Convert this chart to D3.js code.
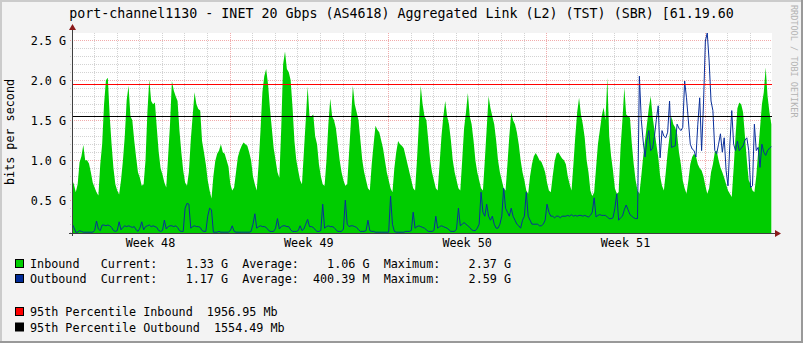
<!DOCTYPE html>
<html><head><meta charset="utf-8">
<script src="https://cdn.jsdelivr.net/npm/d3@7"></script>
<style>
html,body{margin:0;padding:0;background:#f3f3f3;}
svg{display:block;}
text{font-family:"DejaVu Sans Mono",monospace;}
</style></head><body>
<svg id="c" width="803" height="343"></svg>
<script>
const title = "port-channel1130 - INET 20 Gbps (AS4618) Aggregated Link (L2) (TST) (SBR) [61.19.60";
const yLabel = "bits per second";
const watermark = "RRDTOOL / TOBI OETIKER";
const yTickValues = [0.5, 1.0, 1.5, 2.0, 2.5];
const yTickLabels = ["0.5 G", "1.0 G", "1.5 G", "2.0 G", "2.5 G"];
const weekFormat = "Week %V";
const pct95In = 1.95695;   // Gbps
const pct95Out = 1.55449;  // Gbps

// 2-hour samples, one row per day (Gbps)
const inboundDays = [
 [0.76,0.70,0.60,0.70,0.97,1.05,1.19,1.00,1.00,0.96,0.85,0.72],
 [0.66,0.60,0.56,0.95,1.20,1.70,2.00,2.03,1.55,1.20,0.90,0.70],
 [0.62,0.57,0.75,0.99,1.30,1.75,1.93,1.55,1.50,1.25,1.04,0.85],
 [0.78,0.68,0.70,1.00,1.60,2.01,1.74,1.70,1.72,1.40,1.10,0.90],
 [0.82,0.72,0.66,1.05,1.45,1.99,1.87,1.80,1.74,1.37,1.10,0.87],
 [0.72,0.68,0.85,1.25,1.55,1.85,1.70,1.64,1.62,1.24,1.10,0.95],
 [0.75,0.62,0.52,0.80,0.99,1.08,1.12,1.20,1.10,1.08,1.00,0.92],
 [0.70,0.62,0.66,0.85,1.04,1.12,1.18,1.22,1.20,1.18,1.10,1.00],
 [0.80,0.70,0.62,0.95,1.37,1.85,2.05,2.14,1.95,1.65,1.40,1.15],
 [1.00,0.85,0.78,1.40,2.20,2.36,2.14,2.10,2.00,1.66,1.24,1.00],
 [0.87,0.75,0.70,1.10,1.50,1.92,1.55,1.55,1.57,1.30,1.20,0.95],
 [0.80,0.70,0.68,1.00,1.45,1.77,1.55,1.50,1.40,1.20,1.00,0.85],
 [0.75,0.68,0.70,1.10,1.50,1.93,1.70,1.60,1.50,1.25,1.00,0.85],
 [0.75,0.65,0.62,0.95,1.20,1.43,1.38,1.35,1.25,1.15,1.00,0.85],
 [0.75,0.65,0.60,0.90,1.10,1.24,1.20,1.18,1.15,1.05,0.95,0.85],
 [0.75,0.65,0.62,1.00,1.45,1.93,1.70,1.55,1.50,1.25,1.00,0.85],
 [0.75,0.65,0.62,0.95,1.30,1.55,1.74,1.55,1.45,1.25,1.00,0.85],
 [0.75,0.65,0.62,1.00,1.40,1.60,1.84,1.55,1.45,1.25,1.00,0.85],
 [0.75,0.65,0.62,1.00,1.40,1.80,1.65,1.55,1.45,1.25,1.00,0.85],
 [0.75,0.65,0.62,0.95,1.30,1.60,1.50,1.45,1.35,1.20,1.00,0.85],
 [0.75,0.62,0.58,0.80,0.95,1.05,1.09,1.05,1.00,0.98,0.92,0.85],
 [0.72,0.62,0.60,0.80,0.98,1.08,1.10,1.06,1.02,1.00,0.95,0.80],
 [0.70,0.62,0.95,1.30,1.60,1.78,1.57,1.45,1.28,1.00,0.85,0.62],
 [0.55,0.60,0.90,1.20,1.37,1.55,1.66,1.50,2.03,1.30,1.05,0.87],
 [0.65,0.58,0.60,1.15,1.50,1.91,1.57,1.55,1.53,1.20,0.95,0.75],
 [0.62,0.58,0.80,1.04,1.25,1.45,1.65,1.80,1.55,1.37,1.20,1.04],
 [0.80,0.68,0.62,0.85,1.10,1.30,1.55,1.45,1.41,1.33,1.10,0.95],
 [0.75,0.65,0.58,0.75,0.95,1.04,1.08,1.05,0.95,0.90,0.87,0.80],
 [0.68,0.58,0.65,0.85,0.95,1.10,1.12,1.00,0.91,0.85,0.78,0.70],
 [0.62,0.58,0.54,0.90,1.30,1.65,1.72,1.70,1.60,1.30,1.00,0.75],
 [0.70,0.62,0.60,0.80,1.10,1.40,1.70,1.85,2.16,1.80,1.60,1.45]
];
const outboundDays = [
 [0.21,0.16,0.10,0.10,0.12,0.11,0.10,0.10,0.10,0.10,0.10,0.10],
 [0.12,0.24,0.14,0.12,0.19,0.19,0.18,0.19,0.18,0.16,0.12,0.11],
 [0.12,0.23,0.13,0.16,0.18,0.17,0.18,0.17,0.16,0.17,0.13,0.11],
 [0.15,0.23,0.13,0.17,0.18,0.19,0.17,0.18,0.17,0.16,0.12,0.11],
 [0.12,0.25,0.14,0.17,0.18,0.18,0.17,0.18,0.16,0.12,0.11,0.11],
 [0.40,0.46,0.45,0.15,0.17,0.18,0.17,0.17,0.16,0.12,0.11,0.11],
 [0.30,0.40,0.38,0.10,0.10,0.10,0.11,0.10,0.10,0.10,0.10,0.10],
 [0.12,0.18,0.11,0.10,0.10,0.10,0.10,0.10,0.10,0.10,0.10,0.11],
 [0.20,0.33,0.15,0.17,0.18,0.17,0.17,0.16,0.13,0.11,0.11,0.11],
 [0.15,0.27,0.14,0.17,0.18,0.18,0.17,0.17,0.13,0.11,0.11,0.11],
 [0.12,0.18,0.12,0.14,0.20,0.26,0.17,0.17,0.16,0.13,0.11,0.11],
 [0.12,0.45,0.15,0.17,0.18,0.17,0.17,0.16,0.13,0.11,0.11,0.11],
 [0.14,0.50,0.20,0.17,0.18,0.18,0.17,0.16,0.13,0.11,0.11,0.11],
 [0.12,0.25,0.12,0.11,0.11,0.10,0.10,0.10,0.10,0.10,0.10,0.10],
 [0.10,0.55,0.20,0.11,0.10,0.10,0.10,0.10,0.10,0.11,0.11,0.11],
 [0.12,0.35,0.15,0.17,0.18,0.17,0.16,0.15,0.13,0.11,0.11,0.11],
 [0.12,0.30,0.15,0.17,0.18,0.17,0.16,0.15,0.13,0.11,0.11,0.11],
 [0.14,0.40,0.18,0.20,0.22,0.20,0.18,0.16,0.13,0.12,0.12,0.15],
 [0.20,0.60,0.35,0.30,0.45,0.30,0.25,0.30,0.20,0.15,0.15,0.20],
 [0.30,0.65,0.40,0.35,0.30,0.40,0.30,0.25,0.20,0.18,0.15,0.25],
 [0.30,0.60,0.30,0.25,0.20,0.20,0.20,0.20,0.18,0.18,0.20,0.25],
 [0.45,0.35,0.30,0.30,0.28,0.30,0.30,0.28,0.30,0.30,0.30,0.31],
 [0.30,0.32,0.30,0.31,0.30,0.31,0.31,0.30,0.31,0.30,0.29,0.31],
 [0.35,0.53,0.29,0.31,0.32,0.31,0.31,0.31,0.29,0.27,0.27,0.28],
 [0.40,0.58,0.25,0.28,0.30,0.38,0.44,0.38,0.32,0.30,0.28,0.27],
 [0.27,2.05,1.51,1.24,1.04,1.25,1.37,1.12,1.15,1.30,1.51,1.68],
 [1.03,1.37,1.30,1.28,1.35,1.74,1.16,1.17,1.18,1.45,1.40,1.37],
 [1.41,1.99,1.78,1.49,1.20,1.14,1.12,1.04,1.45,1.78,1.12,1.70],
 [2.49,2.59,2.24,1.74,1.62,1.12,1.08,1.20,1.33,1.10,1.28,0.87],
 [0.68,1.20,1.62,1.20,1.12,1.24,1.12,1.15,1.18,1.25,1.28,1.12],
 [0.66,0.68,1.45,1.12,1.16,0.91,1.20,1.10,1.06,1.12,1.15,1.17]
];
const legendRows = [
 "Inbound   Current:    1.33 G  Average:    1.06 G  Maximum:    2.37 G",
 "Outbound  Current:    1.17 G  Average:  400.39 M  Maximum:    2.59 G",
 "95th Percentile Inbound  1956.95 Mb",
 "95th Percentile Outbound  1554.49 Mb"
];
const legendColors = ["#00cf00", "#002a97", "#ff0000", "#000000"];

// ---- layout ----
const W = 803, H = 343;
const L = 72, R = 772, T = 33, B = 233;
const stepMs = 2 * 3600 * 1000;
const start = new Date(Date.UTC(2021, 10, 29, 0, 45));
const end = new Date(start.getTime() + 742.7 * 3600 * 1000);

const inbound = inboundDays.flat();
const outbound = outboundDays.flat();
const times = inbound.map((_, i) => new Date(start.getTime() + i * stepMs));

const x = d3.scaleUtc().domain([start, end]).range([L, R]);
const y = d3.scaleLinear().domain([0.09, 2.59]).range([B, T]);

const svg = d3.select("#c");
svg.append("rect").attr("width", W).attr("height", H).attr("fill", "#f3f3f3");
// shaded frame
svg.append("rect").attr("x", 0).attr("y", 0).attr("width", W).attr("height", 2).attr("fill", "#cbcbcb");
svg.append("rect").attr("x", 0).attr("y", 0).attr("width", 2).attr("height", H).attr("fill", "#cbcbcb");
svg.append("rect").attr("x", 0).attr("y", H - 2).attr("width", W).attr("height", 2).attr("fill", "#999999");
svg.append("rect").attr("x", W - 2).attr("y", 0).attr("width", 2).attr("height", H).attr("fill", "#999999");

svg.append("rect").attr("x", L).attr("y", T).attr("width", R - L).attr("height", B - T).attr("fill", "#ffffff");

// grid (under the data)
const minorCol = "rgba(128,128,128,0.35)", majorCol = "rgba(222,48,48,0.4)";
const grid = svg.append("g");
const minorH = d3.range(1, 26).map(v => v / 10).filter(v => Math.round(v * 10) % 5 !== 0);
grid.selectAll(".mh").data(minorH).enter().append("line")
  .attr("x1", L - 2).attr("x2", R).attr("y1", d => Math.round(y(d)) + 0.5).attr("y2", d => Math.round(y(d)) + 0.5)
  .attr("stroke", minorCol).attr("stroke-dasharray", "1,1");
const days = d3.utcDay.range(start, end).filter(d => d.getUTCDay() !== 1);
grid.selectAll(".mv").data(days).enter().append("line")
  .attr("x1", d => Math.round(x(d)) + 0.5).attr("x2", d => Math.round(x(d)) + 0.5).attr("y1", T).attr("y2", B + 2)
  .attr("stroke", minorCol).attr("stroke-dasharray", "1,1");
grid.selectAll(".Mh").data(yTickValues).enter().append("line")
  .attr("x1", L - 2).attr("x2", R).attr("y1", d => Math.round(y(d)) + 0.5).attr("y2", d => Math.round(y(d)) + 0.5)
  .attr("stroke", majorCol).attr("stroke-dasharray", "1,1");
const weeks = d3.utcMonday.range(start, end);
grid.selectAll(".Mv").data(weeks).enter().append("line")
  .attr("x1", d => Math.round(x(d)) + 0.5).attr("x2", d => Math.round(x(d)) + 0.5).attr("y1", T).attr("y2", B + 2)
  .attr("stroke", majorCol).attr("stroke-dasharray", "1,1");

svg.append("defs").append("clipPath").attr("id", "clip")
  .append("rect").attr("x", L).attr("y", T).attr("width", R - L).attr("height", B - T);
const plot = svg.append("g").attr("clip-path", "url(#clip)");

const area = d3.area().x((d, i) => x(times[i])).y0(B).y1(d => y(d));
plot.append("path").datum(inbound).attr("d", area).attr("fill", "#00cc00");
const line = d3.line().x((d, i) => x(times[i])).y(d => y(d));
plot.append("path").datum(outbound).attr("d", line).attr("fill", "none")
  .attr("stroke", "#0a2f9a").attr("stroke-width", 1);

// percentile rules
svg.append("line").attr("x1", L).attr("x2", R).attr("y1", Math.round(y(pct95In)) + 0.5).attr("y2", Math.round(y(pct95In)) + 0.5)
  .attr("stroke", "#ff0000").attr("stroke-width", 1);
svg.append("line").attr("x1", L).attr("x2", R).attr("y1", Math.round(y(pct95Out)) + 0.5).attr("y2", Math.round(y(pct95Out)) + 0.5)
  .attr("stroke", "#000000").attr("stroke-width", 1);

// axes
svg.append("line").attr("x1", L - 3).attr("x2", R + 4).attr("y1", B + 0.5).attr("y2", B + 0.5).attr("stroke", "#404040");
svg.append("line").attr("x1", L + 0.5).attr("x2", L + 0.5).attr("y1", B + 3).attr("y2", T - 4).attr("stroke", "#404040");
svg.append("path").attr("d", `M${R + 3},${B - 3} L${R + 9},${B + 0.5} L${R + 3},${B + 4} Z`).attr("fill", "#8b1a1a");
svg.append("path").attr("d", `M${L - 3},${T - 3} L${L + 0.5},${T - 9} L${L + 4},${T - 3} Z`).attr("fill", "#8b1a1a");

// y tick labels
svg.selectAll(".yl").data(yTickValues).enter().append("text")
  .attr("x", 66).attr("y", d => y(d) + 4.3).attr("text-anchor", "end")
  .attr("font-size", "11.75px").attr("fill", "#000").text((d, i) => yTickLabels[i]);

// week labels (centred on mid-week)
const fmt = d3.utcFormat(weekFormat);
const weekStarts = d3.utcMonday.range(d3.utcMonday.floor(start), end)
  .filter(d => x(new Date(d.getTime() + 3.5 * 86400000)) < R - 10);
svg.selectAll(".xl").data(weekStarts).enter().append("text")
  .attr("x", d => x(new Date(d.getTime() + 3.5 * 86400000)))
  .attr("y", 247).attr("text-anchor", "middle")
  .attr("font-size", "11.75px").attr("fill", "#000")
  .text(d => fmt(d));

// title
svg.append("text").attr("x", W / 2).attr("y", 18).attr("text-anchor", "middle")
  .attr("font-size", "13.3px").attr("fill", "#000").text(title);

// y label
svg.append("text").attr("transform", "translate(14,132) rotate(-90)").attr("text-anchor", "middle")
  .attr("font-size", "11.75px").attr("fill", "#000").text(yLabel);

// watermark
svg.append("text").attr("transform", "translate(790.5,5) rotate(90)").attr("text-anchor", "start")
  .attr("font-size", "8.5px").attr("fill", "#b4b4b4").text(watermark);

// legend
const legY = [268, 283, 316, 331.5];
legendRows.forEach((row, i) => {
  svg.append("rect").attr("x", 15.5).attr("y", legY[i] - 8.5).attr("width", 8).attr("height", 8)
    .attr("fill", legendColors[i]).attr("stroke", "#000").attr("stroke-width", 1);
  svg.append("text").attr("x", 30).attr("y", legY[i]).attr("font-size", "11.75px").attr("fill", "#000")
    .style("white-space", "pre").text(row);
});
</script>
</body></html>
